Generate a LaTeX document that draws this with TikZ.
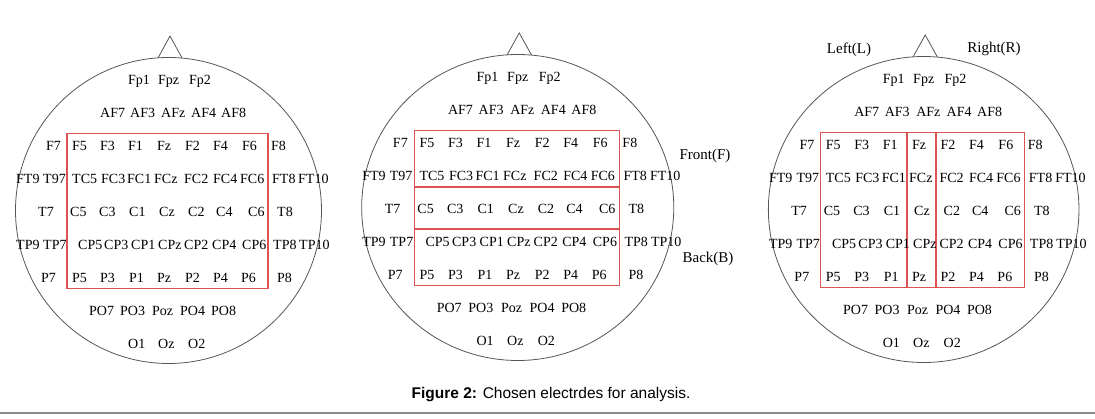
\documentclass[tikz,border=0pt]{standalone}
\usepackage{fontspec}
\setmainfont{Liberation Serif}
\newfontfamily\capfont{Liberation Sans}
\definecolor{selred}{RGB}{222,82,82}
\definecolor{headgray}{RGB}{85,85,85}
\tikzset{
  el/.style={anchor=base west, inner sep=0pt, font=\fontsize{14}{14}\selectfont},
  lbl/.style={anchor=base, inner sep=0pt, font=\fontsize{15}{15}\selectfont},
  headline/.style={draw=headgray, line width=0.8pt},
  selbox/.style={draw=selred, line width=1.4pt},
}
\newcommand\headlabels[1]{%
  \foreach \x/\n in {-29/Fp1,1/Fpz,32/Fp2} \node[el] (#1\n) at (\x,-61.4) {\n};
  \foreach \x/\n in {-57/AF7,-27/AF3,4/AFz,34/AF4,64/AF8} \node[el] (#1\n) at (\x,-28.4) {\n};
  \foreach \x/\n in {-111/F7,-85/F5,-57/F3,-29/F1,0/Fz,28/F2,56/F4,85/F6,114/F8} \node[el] (#1\n) at (\x,4.6) {\n};
  \foreach \x/\n in {-141/FT9,-114/T97,-85/TC5,-56/FC3,-30/FC1,-3/FCz,27/FC2,56/FC4,83/FC6,115/FT8,141/FT10} \node[el] (#1\n) at (\x,37.6) {\n};
  \foreach \x/\n in {-119/T7,-87/C5,-58/C3,-28/C1,2/Cz,31/C2,59/C4,91/C6,120/T8} \node[el] (#1\n) at (\x,70.6) {\n};
  \foreach \x/\n in {-141/TP9,-114/TP7,-79/CP5,-53/CP3,-26/CP1,1/CPz,27/CP2,55/CP4,85/CP6,116/TP8,142/TP10} \node[el] (#1\n) at (\x,103.6) {\n};
  \foreach \x/\n in {-116/P7,-85/P5,-57/P3,-28/P1,0/Pz,28/P2,56/P4,84/P6,120/P8} \node[el] (#1\n) at (\x,136.6) {\n};
  \foreach \x/\n in {-68/PO7,-37/PO3,-5/Poz,23/PO4,54/PO8} \node[el] (#1\n) at (\x,169.6) {\n};
  \foreach \x/\n in {-29/O1,1/Oz,31/O2} \node[el] (#1\n) at (\x,202.6) {\n};
}
\newcommand\headshape{%
  \draw[headline] (11.5,64.5) ellipse [x radius=153, y radius=153];
  \draw[headline] (1,-88) -- (13,-110) -- (25,-88);
  \draw[selbox] (-90,-12.5) rectangle (111,142.5);
}
\begin{document}
\begin{tikzpicture}[x=1pt,y=-1pt]
\useasboundingbox (0,0) rectangle (1095,419);
% head 1
\begin{scope}[shift={(157,146)}]
  \headshape
  \headlabels{a-}
\end{scope}
% head 2
\begin{scope}[shift={(506,143)}, xscale=1.02]
  \headshape
  \draw[selbox] (-90,44) -- (111,44);
  \draw[selbox] (-90,86) -- (111,86);
  \headlabels{b-}
\end{scope}
% head 3
\begin{scope}[shift={(912,145)}, xscale=1.015]
  \headshape
  \draw[selbox] (-5,-12.5) -- (-5,142.5);
  \draw[selbox] (23.6,-12.5) -- (23.6,142.5);
  \headlabels{c-}
\end{scope}
\node[lbl] (front) at (705,160) {Front(F)};
\node[lbl] (back) at (708,263) {Back(B)};
\node[lbl] (left) at (849,54) {Left(L)};
\node[lbl] (right) at (994,53) {Right(R)};
\node[anchor=base, inner sep=0pt, font=\capfont\fontsize{15.5}{16}\selectfont] (cap) at (551,398.5) {\textbf{Figure 2:} Chosen electrdes for analysis.};
\draw[line width=2pt, draw=black!45] (0,413) -- (1095,413);
\end{tikzpicture}
\end{document}
